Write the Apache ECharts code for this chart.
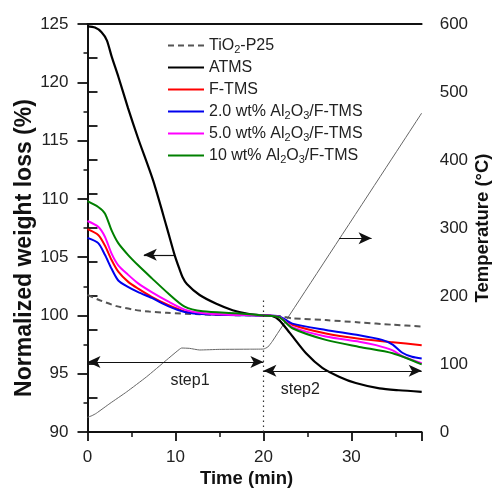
<!DOCTYPE html>
<html><head><meta charset="utf-8">
<script src="https://cdn.jsdelivr.net/npm/echarts@6/dist/echarts.min.js"></script>
<style>html,body{margin:0;padding:0;background:#fff}#c{width:493px;height:491px}</style>
</head><body><div id="c"></div>
<script>
// Weight-loss curves: [time (min), normalized weight (%)]
var tio2 = [[0,101.75],[1.4,101.3],[3.3,100.8],[5.2,100.5],[7,100.33],[9,100.23],[12.75,100.1],[16,100.03],[20,100.0],[22,99.92],[23.3,99.75],[27.1,99.6],[30.9,99.4],[34.7,99.2],[38,99.05]];
var atms = [[0,124.8],[0.85,124.7],[1.6,124.3],[2.2,123.6],[2.75,122.2],[3.5,120.5],[4.6,117.8],[5.75,115.2],[7.45,111.6],[9.0,107.6],[9.9,105.2],[10.4,104.1],[10.8,103.3],[11.3,102.7],[12.75,101.75],[14.65,101.0],[16.5,100.45],[18.4,100.12],[20,100.0],[21,99.95],[21.8,99.6],[23,98.5],[24.85,96.75],[26.7,95.5],[28.6,94.75],[30.5,94.2],[33.2,93.74],[35.4,93.58],[38,93.45]];
var ftms = [[0,107.4],[1.22,106.9],[1.98,106.0],[2.74,104.75],[3.5,103.75],[4.6,102.9],[5.76,102.3],[7.3,101.6],[9.16,100.9],[11.05,100.35],[13,100.15],[16,100.05],[20,100.0],[21.8,99.9],[23.3,99.2],[27.1,98.45],[30.9,98.0],[34.7,97.7],[38,97.45]];
var al2 = [[0,106.65],[1.22,106.2],[1.98,105.2],[2.74,104.0],[3.5,103.0],[4.6,102.45],[5.76,102.0],[7.3,101.5],[9.16,100.8],[11.05,100.3],[13,100.12],[16,100.04],[20,100.0],[21.8,99.92],[23.3,99.3],[27.1,98.75],[30.9,98.3],[33.5,97.9],[34.7,97.5],[35.8,96.8],[36.9,96.45],[38,96.3]];
var al5 = [[0,108.1],[1.22,107.6],[1.98,106.75],[2.74,105.3],[3.5,104.3],[4.6,103.5],[5.76,102.75],[7.3,102.0],[9.16,101.2],[11.05,100.5],[13,100.2],[16,100.06],[20,100.0],[21.8,99.88],[23.3,99.0],[27.1,98.2],[30.9,97.75],[32.8,97.45],[34.7,97.0],[35.8,96.5],[38,95.9]];
var al10 = [[0,109.8],[1.22,109.3],[1.98,108.75],[2.74,107.3],[3.5,106.2],[4.6,105.2],[5.76,104.3],[7.3,103.2],[9.16,101.9],[11.05,100.75],[13.1,100.35],[16.9,100.18],[20,100.0],[21.8,99.85],[23.3,98.9],[27.1,97.9],[30.9,97.3],[34.7,96.75],[38,95.8]];
// Temperature program: [time (min), temperature (°C)]
var temp = [[0,21.6],[0.5,24],[1,27.5],[2.55,42],[4.45,59],[6.7,81],[9,106],[10.2,119],[10.7,123.5],[11.6,123],[12.75,120.6],[15,121.5],[18.4,121.8],[20,122],[20.5,125],[21,133],[38,469]];
// Axis ticks
var xTicks = [0,10,20,30];
var yLeftTicks = [90,95,100,105,110,115,120,125];
var yRightTicks = [0,100,200,300,400,500,600];
var names = ['TiO2-P25','ATMS','F-TMS','2.0 wt% Al2O3/F-TMS','5.0 wt% Al2O3/F-TMS','10 wt% Al2O3/F-TMS'];
var richNames = {
  'TiO2-P25':'TiO{s|2}-P25',
  'ATMS':'ATMS',
  'F-TMS':'F-TMS',
  '2.0 wt% Al2O3/F-TMS':'2.0 wt% Al{s|2}O{s|3}/F-TMS',
  '5.0 wt% Al2O3/F-TMS':'5.0 wt% Al{s|2}O{s|3}/F-TMS',
  '10 wt% Al2O3/F-TMS':'10 wt% Al{s|2}O{s|3}/F-TMS'
};
var FONT = '"Liberation Sans", Arial, sans-serif';
var chart = echarts.init(document.getElementById('c'), null, {renderer:'canvas'});
function line(name, data, color, width, type, extra) {
  var s = {name:name, type:'line', data:data, showSymbol:false, symbol:'none', smooth:0.25,
    lineStyle:{color:color, width:width, type:type||'solid'}, itemStyle:{color:color}, z:3};
  for (var k in extra) s[k] = extra[k];
  return s;
}
var blk = {color:'#111', width:1.2, type:'solid'};
var option = {
  animation:false,
  backgroundColor:'#fff',
  grid:{left:87.5, right:71.3, top:24, bottom:59, outerBoundsMode:'none', containLabel:false},
  legend:{
    data:names, orient:'vertical', left:167, top:36, padding:0, itemWidth:36, itemHeight:14, itemGap:3,
    itemStyle:{opacity:0, borderWidth:0},
    formatter:function(n){return richNames[n];},
    textStyle:{fontFamily:FONT, fontSize:16, color:'#222', lineHeight:19,
      rich:{s:{fontFamily:FONT, fontSize:11, lineHeight:9, verticalAlign:'bottom', color:'#222'}}}
  },
  xAxis:[{
    type:'value', min:0, max:38, interval:10,
    name:'Time (min)', nameLocation:'middle', nameGap:37, nameMoveOverlap:false,
    nameTextStyle:{fontFamily:FONT, fontSize:18.5, fontWeight:'bold', color:'#111', padding:[0,16,0,0]},
    axisLine:{lineStyle:{color:'#111', width:1.8}},
    axisTick:{inside:false, length:9, lineStyle:{width:1.8, color:'#111'}},
    minorTick:{show:true, splitNumber:2, length:5, lineStyle:{width:1.5, color:'#111'}},
    axisLabel:{fontFamily:FONT, fontSize:17, color:'#222', margin:17,
      formatter:function(v){return xTicks.indexOf(v)>=0 ? String(v) : '';}},
    splitLine:{show:false}
  },{
    type:'value', min:0, max:38, position:'top',
    axisLine:{show:true, lineStyle:{color:'#111', width:1.8}},
    axisTick:{show:false}, axisLabel:{show:false}, splitLine:{show:false}
  }],
  yAxis:[{
    type:'value', min:90, max:125, interval:5, position:'left',
    name:'Normalized weight loss (%)', nameLocation:'middle', nameGap:51, nameRotate:90, nameMoveOverlap:false,
    nameTextStyle:{fontFamily:FONT, fontSize:23, fontWeight:'bold', color:'#111', padding:[0,40,0,0]},
    axisLine:{show:true, lineStyle:{color:'#111', width:1.8}},
    axisTick:{inside:false, length:10, lineStyle:{width:1.8, color:'#111'}},
    minorTick:{show:true, splitNumber:2, length:4, lineStyle:{width:1.5, color:'#111'}},
    axisLabel:{fontFamily:FONT, fontSize:17, color:'#222', margin:19,
      formatter:function(v){return yLeftTicks.indexOf(v)>=0 ? String(v) : '';}},
    splitLine:{show:false}
  },{
    type:'value', min:0, max:600, interval:100, position:'right',
    name:'Temperature (°C)', nameLocation:'middle', nameGap:52, nameRotate:90, nameMoveOverlap:false,
    nameTextStyle:{fontFamily:FONT, fontSize:18.5, fontWeight:'bold', color:'#111'},
    axisLine:{show:true, lineStyle:{color:'#111', width:1.8}},
    axisTick:{inside:false, length:10, lineStyle:{width:1.8, color:'#111'}},
    minorTick:{show:true, splitNumber:2, length:10, lineStyle:{width:1.8, color:'#111'}},
    axisLabel:{fontFamily:FONT, fontSize:17, color:'#222', margin:18,
      formatter:function(v){return yRightTicks.indexOf(v)>=0 ? String(v) : '';}},
    splitLine:{show:false}
  }],
  series:[
    line('Temperature', temp, '#666', 1, 'solid', {yAxisIndex:1, smooth:0.15, z:2,
      markLine:{silent:true, symbol:['none','arrow'], symbolSize:[9,13], label:{show:false},
        lineStyle:blk, data:[[{coord:[28.6,285]},{coord:[32.3,285]}]]}}),
    line('TiO2-P25', tio2, '#555', 2, [6,4], {
      markLine:{silent:true, symbol:['none','none'], label:{show:false},
        lineStyle:{color:'#333', width:1.2, type:[1.5,3.5]}, data:[[{coord:[20,90]},{coord:[20,101.5]}]]}}),
    line('ATMS', atms, '#000', 2.2, 'solid', {
      markLine:{silent:true, symbol:['arrow','arrow'], symbolSize:[9,13], label:{show:false},
        lineStyle:blk, data:[[{coord:[0,96]},{coord:[20,96]}],[{coord:[20,95.25]},{coord:[38,95.25]}]]},
      markPoint:{silent:true, symbol:'circle', symbolSize:0,
        label:{show:true, position:'inside', formatter:'{b}', fontFamily:FONT, fontSize:16, color:'#222'},
        data:[{name:'step1', coord:[11.65,94.45]},{name:'step2', coord:[24.2,93.6]}]}}),
    line('F-TMS', ftms, '#ff0000', 2, 'solid', {
      markLine:{silent:true, symbol:['arrow','none'], symbolSize:[9,13], label:{show:false},
        lineStyle:blk, data:[[{coord:[6.4,105.2]},{coord:[9.9,105.2]}]]}}),
    line('2.0 wt% Al2O3/F-TMS', al2, '#0000ee', 2),
    line('5.0 wt% Al2O3/F-TMS', al5, '#ff00ff', 2),
    line('10 wt% Al2O3/F-TMS', al10, '#008000', 2)
  ]
};
chart.setOption(option);
</script></body></html>
